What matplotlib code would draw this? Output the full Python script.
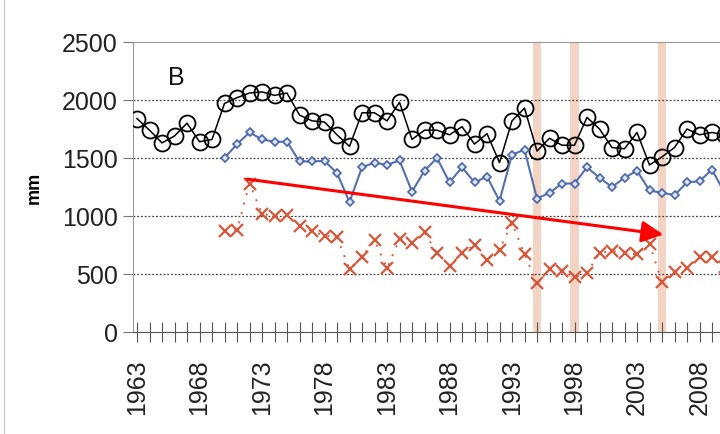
import matplotlib
matplotlib.use('Agg')
import matplotlib.pyplot as plt
from matplotlib.lines import Line2D

plt.rcParams['font.family'] = ['Liberation Sans', 'DejaVu Sans']

# annual totals (mm)
years_all = list(range(1963, 2011))
black = [1840, 1740, 1630, 1690, 1800, 1640, 1660, 1970, 2020, 2060,
         2070, 2040, 2060, 1870, 1820, 1810, 1700, 1600, 1890, 1890,
         1820, 1980, 1660, 1740, 1740, 1700, 1770, 1620, 1710, 1460,
         1820, 1930, 1560, 1670, 1610, 1610, 1850, 1750, 1590, 1580,
         1720, 1440, 1510, 1590, 1750, 1700, 1720, 1700]

years_b = list(range(1970, 2011))
blue = [1500, 1620, 1720, 1660, 1640, 1640, 1470, 1470, 1475, 1370,
        1120, 1420, 1460, 1440, 1480, 1210, 1390, 1500, 1290, 1420,
        1290, 1340, 1130, 1530, 1570, 1150, 1200, 1280, 1280, 1420,
        1330, 1250, 1330, 1390, 1220, 1200, 1180, 1290, 1300, 1400, 1200]

red = [870, 880, 1280, 1020, 1000, 1010, 910, 870, 830, 820,
       540, 650, 790, 550, 800, 770, 860, 680, 570, 680,
       750, 620, 710, 940, 670, 420, 540, 530, 470, 510,
       680, 700, 680, 670, 760, 430, 520, 550, 650, 650, 560]

drought_years = [1995, 1998, 2005]
trend_start = (1971.8, 1318)
trend_end = (2005.1, 840)

fig = plt.figure(figsize=(7.2, 4.35), dpi=100)
ax = fig.add_axes([133/720, 102/435, 604/720, 290/435])

for y in drought_years:
    ax.axvspan(y - 0.33, y + 0.33, color='#f3d3c3', lw=0, zorder=0)

ax.plot(years_all, black, '-', color='black', lw=1.1, marker='o', ms=11.5,
        mfc='none', mec='black', mew=1.3, zorder=3)
ax.plot(years_b, blue, '-', color='#5470b0', lw=1.5, marker='D', ms=4.5,
        mfc='#dde4f3', mec='#4a66a8', mew=1.2, zorder=3)
ax.plot(years_b, red, linestyle=(0, (1, 4)), color='#d8603f', lw=1.4,
        marker='x', ms=8, mec='#d8573a', mew=1.6, zorder=3)

ax.annotate('', xy=trend_end, xytext=trend_start,
            arrowprops=dict(arrowstyle='-|>,head_length=1.3,head_width=0.65',
                            color='#ff0000', lw=2.2, shrinkA=0, shrinkB=0),
            zorder=4)

ax.text(0.058, 0.855, 'B', transform=ax.transAxes, fontsize=18,
        color='#111111', va='baseline')

ax.set_xlim(1962.68, 1962.68 + 604/12.5)
ax.set_ylim(0, 2500)
ax.set_yticks(range(0, 2501, 500))
ax.set_xticks(range(1963, 2011, 5))
ax.set_xticks(range(1963, 2012), minor=True)
ax.tick_params(axis='y', labelsize=18, length=7, color='#777777',
               labelcolor='#222222', pad=4)
ax.tick_params(axis='x', which='both', direction='inout', length=14,
               color='#555555', width=0.8, labelsize=18, labelrotation=90,
               labelcolor='#222222', pad=12)
ax.set_ylabel('mm', fontsize=13, fontweight='bold', labelpad=14)

for g in [500, 1000, 1500, 2000]:
    ax.axhline(g, color='#444444', lw=0.9, linestyle=(0, (1.5, 1.5)), zorder=1)

for s in ['left', 'top', 'right']:
    ax.spines[s].set_color('#999999')
ax.spines['bottom'].set_color('#555555')

fig.add_artist(Line2D([4/720, 4/720], [0, 1], color='#cccccc', lw=1))

fig.savefig('out.png', dpi=100)
